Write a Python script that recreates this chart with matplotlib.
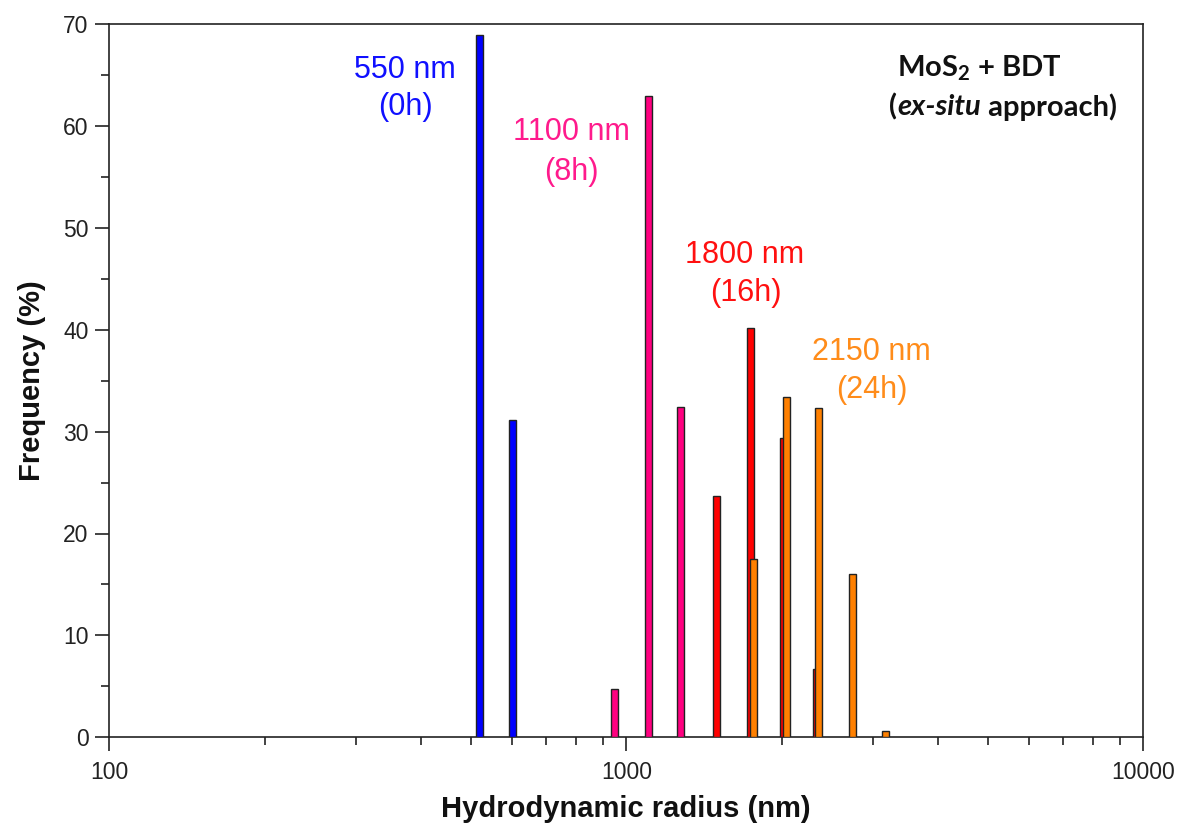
import matplotlib
matplotlib.use("Agg")
import matplotlib.pyplot as plt
import numpy as np
from matplotlib.ticker import LogLocator, MultipleLocator, FixedLocator, NullFormatter

# ---- data ----
blue_x = [521, 603]
blue_y = [68.9, 31.1]
pink_x = [949, 1103, 1273]
pink_y = [4.7, 62.9, 32.4]
red_x = [1497, 1735, 2010, 2328]
red_y = [23.7, 40.2, 29.4, 6.7]
orange_x = [1760, 2040, 2356, 2736, 3166]
orange_y = [17.5, 33.4, 32.3, 16.0, 0.65]

labels = [("550 nm", "(0h)"), ("1100 nm", "(8h)"), ("1800 nm", "(16h)"), ("2150 nm", "(24h)")]
colors = ["#0000FF", "#FF0080", "#FF0000", "#FF8000"]
text_colors = ["#1010FF", "#FF1A8C", "#FF1010", "#FF8C1A"]

W, H = 1181, 827
fig = plt.figure(figsize=(W / 100, H / 100), dpi=100)
L, R, T, B = 109.3, 1143.3, 24.0, 737.3
ax = fig.add_axes([L / W, 1 - B / H, (R - L) / W, (B - T) / H])

plt.rcParams['mathtext.fontset'] = 'custom'
plt.rcParams['mathtext.rm'] = 'Lato:bold'
plt.rcParams['mathtext.bf'] = 'Lato:bold'

half = 0.0068  # half bar width in decades


def log_bars(xs, ys, color):
    xs = np.asarray(xs, float)
    left = xs * 10 ** (-half)
    width = xs * (10 ** half - 10 ** (-half))
    ax.bar(left, ys, width=width, align='edge', color=color,
           edgecolor='#222222', linewidth=1.0, zorder=3)


log_bars(blue_x, blue_y, colors[0])
log_bars(pink_x, pink_y, colors[1])
log_bars(red_x, red_y, colors[2])
log_bars(orange_x, orange_y, colors[3])

ax.set_xscale('log')
ax.set_xlim(100, 10000)
ax.set_ylim(0, 70)
ax.xaxis.set_major_locator(FixedLocator([100, 1000, 10000]))
ax.set_xticklabels(["100", "1000", "10000"])
ax.xaxis.set_minor_locator(LogLocator(base=10, subs=np.arange(2, 10)))
ax.xaxis.set_minor_formatter(NullFormatter())
ax.yaxis.set_major_locator(MultipleLocator(10))
ax.yaxis.set_minor_locator(MultipleLocator(5))

for s in ax.spines.values():
    s.set_linewidth(1.2)
    s.set_color('#222222')

ax.tick_params(axis='both', which='major', direction='out', length=10, width=1.2,
               labelsize=16.5, colors='#222222', labelcolor='#222222')
ax.tick_params(axis='both', which='minor', direction='out', length=5.5, width=1.2,
               colors='#222222')
ax.tick_params(axis='x', which='major', pad=7)
ax.tick_params(axis='y', which='major', pad=5)
for lab in ax.get_xticklabels() + ax.get_yticklabels():
    lab.set_family('Liberation Sans')

ax.set_xlabel("Hydrodynamic radius (nm)", fontsize=21, fontweight='bold',
              family='Liberation Sans', labelpad=8, color='#111111')
ax.set_ylabel("Frequency (%)", fontsize=21, fontweight='bold',
              family='Liberation Sans', labelpad=12, color='#111111')


def af(px, py):
    return ((px - L) / (R - L), (B - py) / (B - T))


pos = [((405, 70), (405, 107)), ((571, 132), (571, 172)),
       ((745, 255), (746, 293)), ((871, 352), (872, 390))]
for (l1, l2), ((x1, y1), (x2, y2)), c in zip(labels, pos, text_colors):
    ax.text(*af(x1, y1), l1, transform=ax.transAxes, ha='center', va='center',
            fontsize=22, color=c, family='Liberation Sans')
    ax.text(*af(x2, y2), l2, transform=ax.transAxes, ha='center', va='center',
            fontsize=22, color=c, family='Liberation Sans')

ax.text(*af(979, 68), r"MoS$_\mathbf{2}$ + BDT", transform=ax.transAxes,
        ha='center', va='center', fontsize=21, fontweight='bold', family='Lato',
        color='#111111')
t1 = ax.text(*af(889, 107), "(", transform=ax.transAxes, ha='left', va='center',
             fontsize=21, fontweight='bold', family='Lato', color='#111111')
t2 = ax.annotate("ex-situ", xycoords=t1, xy=(1, 0.5), va='center', ha='left',
                 fontsize=21, fontweight='bold', style='italic', family='Lato',
                 color='#111111')
t3 = ax.annotate(" approach)", xycoords=t2, xy=(1, 0.5), va='center', ha='left',
                 fontsize=21, fontweight='bold', family='Lato', color='#111111')

fig.savefig("out.png", dpi=100)
